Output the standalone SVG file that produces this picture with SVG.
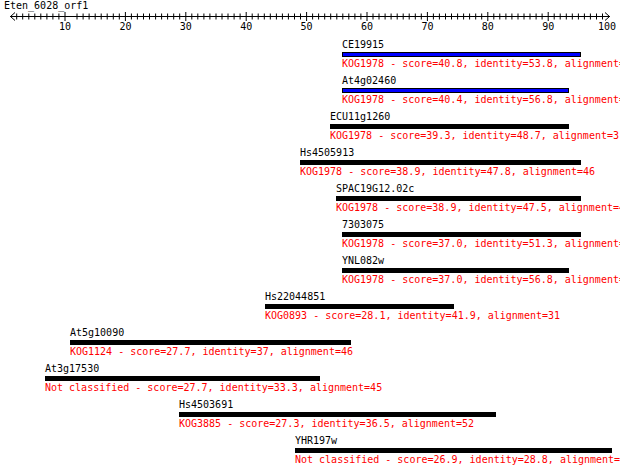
<svg xmlns="http://www.w3.org/2000/svg" width="620" height="473" viewBox="0 0 620 473">
<style>
text{font-family:"DejaVu Sans Mono","Liberation Mono",monospace;font-size:10px}
.n{fill:#000}
.r{fill:#ff0000}
.bk{fill:#000;stroke:#000;stroke-width:1}
.bl{fill:#0000ff;stroke:#000;stroke-width:1}
.ax{stroke:#000;stroke-width:1;fill:none}
</style>
<rect width="620" height="473" fill="#fff"/>
<g id="axis">
<text class="n" x="4" y="9">Eten_6028_orf1</text>
<path class="ax" d="M10,16.5H610 M15,12.5L10.5,16.5L15,20.5 M605,12.5L609.5,16.5L605,20.5"/>
<path class="ax" d="M16.7,13.5v6M22.7,13.5v6M28.8,13.5v6M34.8,13.5v6M40.8,13.5v6M46.9,13.5v6M52.9,13.5v6M58.9,13.5v6
M77,13.5v6M83.1,13.5v6M89.1,13.5v6M95.2,13.5v6M101.2,13.5v6M107.2,13.5v6M113.3,13.5v6M119.3,13.5v6M131.4,13.5v6M137.4,13.5v6M143.5,13.5v6M149.5,13.5v6M155.6,13.5v6M161.6,13.5v6M167.6,13.5v6M173.7,13.5v6M179.7,13.5v6
M191.8,13.5v6M197.8,13.5v6M203.9,13.5v6M209.9,13.5v6M216,13.5v6M222,13.5v6M228,13.5v6M234.1,13.5v6M240.1,13.5v6
M252.2,13.5v6M258.2,13.5v6M264.3,13.5v6M270.3,13.5v6M276.4,13.5v6M282.4,13.5v6M288.4,13.5v6M294.5,13.5v6M300.5,13.5v6
M312.6,13.5v6M318.6,13.5v6M324.7,13.5v6M330.7,13.5v6M336.8,13.5v6M342.8,13.5v6M348.8,13.5v6M354.9,13.5v6M360.9,13.5v6
M373,13.5v6M379,13.5v6M385.1,13.5v6M391.1,13.5v6M397.2,13.5v6M403.2,13.5v6M409.2,13.5v6M415.3,13.5v6M421.3,13.5v6
M433.4,13.5v6M439.4,13.5v6M445.5,13.5v6M451.5,13.5v6M457.6,13.5v6M463.6,13.5v6M469.6,13.5v6M475.7,13.5v6M481.7,13.5v6
M493.8,13.5v6M499.8,13.5v6M505.9,13.5v6M511.9,13.5v6M518,13.5v6M524,13.5v6M530,13.5v6M536.1,13.5v6M542.1,13.5v6
M554.2,13.5v6M560.2,13.5v6M566.3,13.5v6M572.3,13.5v6M578.4,13.5v6M584.4,13.5v6M590.4,13.5v6M596.5,13.5v6M602.5,13.5v6"/>
<path class="ax" d="M65,12v9M125.4,12v9M185.8,12v9M246.2,12v9M306.6,12v9M367,12v9M427.4,12v9M487.8,12v9M548.2,12v9"/>
<g class="n" text-anchor="middle">
<text x="65" y="30">10</text><text x="125.4" y="30">20</text><text x="185.8" y="30">30</text><text x="246.2" y="30">40</text><text x="306.6" y="30">50</text><text x="367" y="30">60</text><text x="427.4" y="30">70</text><text x="487.8" y="30">80</text><text x="548.2" y="30">90</text><text x="607" y="30">100</text>
</g>
</g>
<g id="connectors"></g>
<g id="CE19915"><text class="n" x="342" y="48">CE19915</text><rect class="bl" x="342.5" y="52.5" width="238" height="4"/><text class="r" x="342" y="67">KOG1978 - score=40.8, identity=53.8, alignment=</text></g>
<g id="At4g02460"><text class="n" x="342" y="84">At4g02460</text><rect class="bl" x="342.5" y="88.5" width="226" height="4"/><text class="r" x="342" y="103">KOG1978 - score=40.4, identity=56.8, alignment=</text></g>
<g id="ECU11g1260"><text class="n" x="330" y="120">ECU11g1260</text><rect class="bk" x="330.5" y="124.5" width="238" height="4"/><text class="r" x="330" y="139">KOG1978 - score=39.3, identity=48.7, alignment=3</text></g>
<g id="Hs4505913"><text class="n" x="300" y="156">Hs4505913</text><rect class="bk" x="300.5" y="160.5" width="280" height="4"/><text class="r" x="300" y="175">KOG1978 - score=38.9, identity=47.8, alignment=46</text></g>
<g id="SPAC19G12.02c"><text class="n" x="336" y="192">SPAC19G12.02c</text><rect class="bk" x="336.5" y="196.5" width="244" height="4"/><text class="r" x="336" y="211">KOG1978 - score=38.9, identity=47.5, alignment=4</text></g>
<g id="n7303075"><text class="n" x="342" y="228">7303075</text><rect class="bk" x="342.5" y="232.5" width="238" height="4"/><text class="r" x="342" y="247">KOG1978 - score=37.0, identity=51.3, alignment=</text></g>
<g id="YNL082w"><text class="n" x="342" y="264">YNL082w</text><rect class="bk" x="342.5" y="268.5" width="226" height="4"/><text class="r" x="342" y="283">KOG1978 - score=37.0, identity=56.8, alignment=</text></g>
<g id="Hs22044851"><text class="n" x="265" y="300">Hs22044851</text><rect class="bk" x="265.5" y="304.5" width="188" height="4"/><text class="r" x="265" y="319">KOG0893 - score=28.1, identity=41.9, alignment=31</text></g>
<g id="At5g10090"><text class="n" x="70" y="336">At5g10090</text><rect class="bk" x="70.5" y="340.5" width="280" height="4"/><text class="r" x="70" y="355">KOG1124 - score=27.7, identity=37, alignment=46</text></g>
<g id="At3g17530"><text class="n" x="45" y="372">At3g17530</text><rect class="bk" x="45.5" y="376.5" width="274" height="4"/><text class="r" x="45" y="391">Not classified - score=27.7, identity=33.3, alignment=45</text></g>
<g id="Hs4503691"><text class="n" x="179" y="408">Hs4503691</text><rect class="bk" x="179.5" y="412.5" width="316" height="4"/><text class="r" x="179" y="427">KOG3885 - score=27.3, identity=36.5, alignment=52</text></g>
<g id="YHR197w"><text class="n" x="295" y="444">YHR197w</text><rect class="bk" x="295.5" y="448.5" width="316" height="4"/><text class="r" x="295" y="463">Not classified - score=26.9, identity=28.8, alignment=5</text></g>
</svg>
